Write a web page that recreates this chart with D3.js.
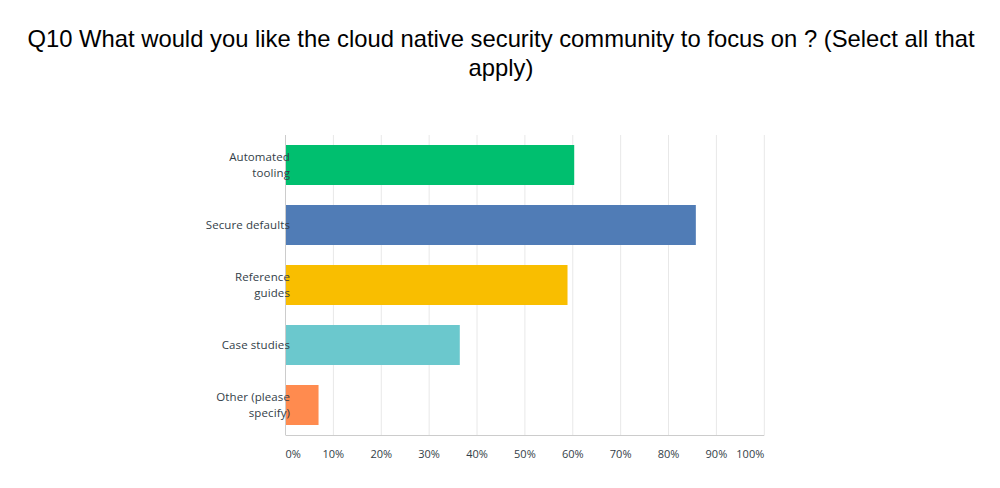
<!DOCTYPE html>
<html><head><meta charset="utf-8">
<script src="https://cdn.jsdelivr.net/npm/d3@7"></script>
<style>body{margin:0;background:#fff}svg{display:block}</style>
</head><body>
<svg id="c" width="1000" height="488"></svg>
<script>
const categories = [["Automated","tooling"],["Secure defaults"],["Reference","guides"],["Case studies"],["Other (please","specify)"]];
const values = [60.3, 85.7, 58.9, 36.4, 6.9];
const colors = ["#00bf6f","#507cb6","#f9be00","#6bc8cd","#ff8b4f"];
const ticks = [0,10,20,30,40,50,60,70,80,90,100];
const titleLines = ["Q10 What would you like the cloud native security community to focus on ? (Select all that","apply)"];

const svg = d3.select("#c");
const x = d3.scaleLinear().domain([0,100]).range([285.5,764.3]);
const y = d3.scaleBand().domain(d3.range(categories.length)).range([135,435]).paddingInner(1/3).paddingOuter(1/6);

svg.append("g").selectAll("text").data(titleLines).join("text")
  .attr("x",501).attr("y",(d,i)=>47+i*29).attr("text-anchor","middle")
  .attr("font-family","Liberation Sans, Arial, sans-serif").attr("font-size",23.8).attr("fill","#000")
  .text(d=>d);

// gridlines
svg.append("g").selectAll("line").data(ticks.slice(1)).join("line")
  .attr("x1",d=>x(d)).attr("x2",d=>x(d)).attr("y1",135).attr("y2",435)
  .attr("stroke","#e8e8e8").attr("stroke-width",1);

// bars
svg.append("g").selectAll("rect").data(values).join("rect")
  .attr("x",x(0)).attr("y",(d,i)=>y(i)).attr("width",d=>x(d)-x(0)).attr("height",y.bandwidth())
  .attr("fill",(d,i)=>colors[i]);

// axes lines
svg.append("line").attr("x1",x(0)).attr("x2",x(0)).attr("y1",135).attr("y2",435).attr("stroke","#cccccc");
svg.append("line").attr("x1",x(0)).attr("x2",x(100)).attr("y1",435.5).attr("y2",435.5).attr("stroke","#cccccc");

// tick labels
svg.append("g").selectAll("text").data(ticks).join("text")
  .attr("x",d=>d===0?x(0):(d===100?x(100):x(d)))
  .attr("y",458)
  .attr("text-anchor",d=>d===0?"start":(d===100?"end":"middle"))
  .attr("font-family","Open Sans, sans-serif").attr("font-size",11).attr("fill","#333e48")
  .text(d=>d+"%");

// category labels
const lg = svg.append("g");
categories.forEach((lines,i)=>{
  const cy = y(i)+y.bandwidth()/2;
  const t = lg.append("text").attr("text-anchor","end")
    .attr("font-family","Open Sans, sans-serif").attr("font-size",11.5).attr("letter-spacing",0.1).attr("fill","#333e48");
  lines.forEach((l,j)=>{
    t.append("tspan").attr("x",290).attr("y",cy+4+(j-(lines.length-1)/2)*16).text(l);
  });
});
</script>
</body></html>
